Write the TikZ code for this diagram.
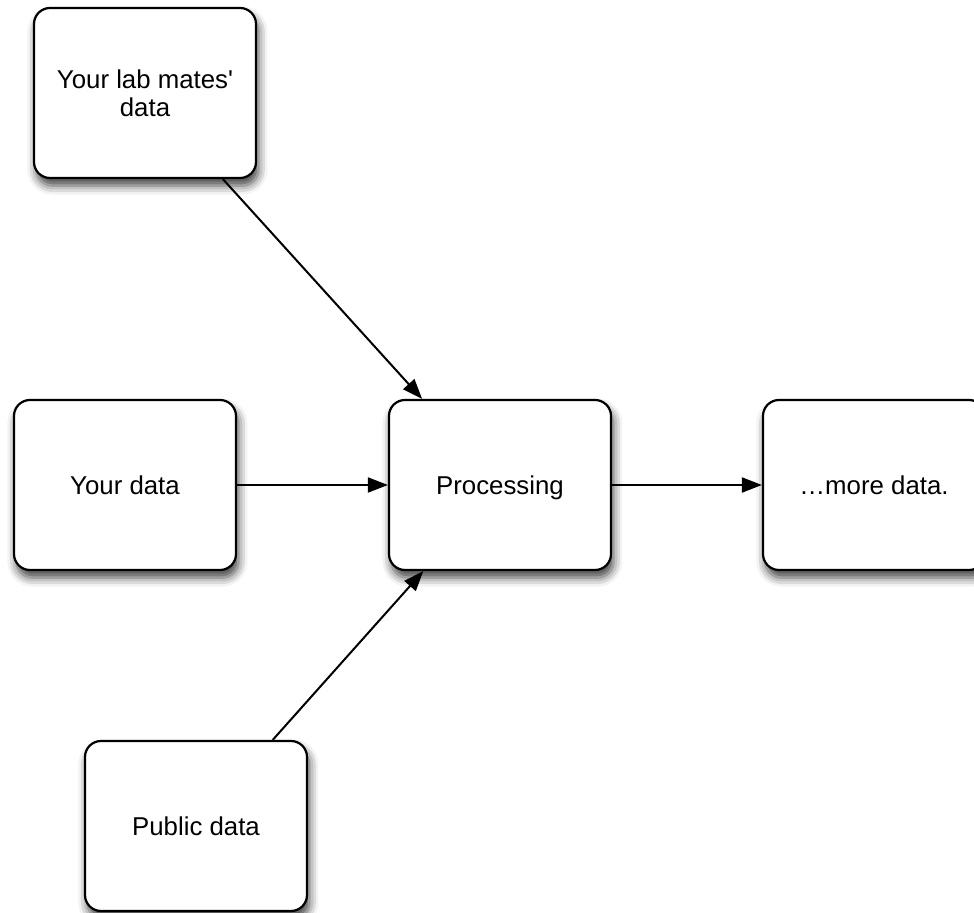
\documentclass[tikz,border=0pt]{standalone}
\usepackage{fontspec}
\setmainfont{Liberation Sans}
\usetikzlibrary{arrows.meta,shadows.blur}
\begin{document}
\begin{tikzpicture}[x=0.5pt,y=-0.5pt,
  box/.style={draw, line width=1.1pt, rounded corners=8pt, fill=white,
    minimum width=111pt, minimum height=85pt, align=center,
    text height=10.5pt, text depth=1.2pt,
    font=\fontsize{12.9}{14.2}\selectfont,
    blur shadow={shadow xshift=1.2pt, shadow yshift=-3.8pt, shadow blur radius=4.5pt, shadow opacity=75}},
  arr/.style={line width=1pt, -{Triangle[length=10pt,width=7.5pt]}}]
\useasboundingbox (0,0) rectangle (974,913);
\node[box, text height={}, text depth={}] (lab) at (145,93) {Your lab mates\textquotesingle\\data};
\node[box] (mine) at (125,485) {Your data};
\node[box] (proc) at (500,485) {Processing};
\node[box] (more) at (874,485) {…more data.};
\node[box] (public) at (196,826) {Public data};

\path[draw,arr] (lab) -- (proc);
\path[draw,arr] (mine) -- (proc);
\path[draw,arr] (public) -- (proc);
\path[draw,arr] (proc) -- (more);
\end{tikzpicture}
\end{document}
